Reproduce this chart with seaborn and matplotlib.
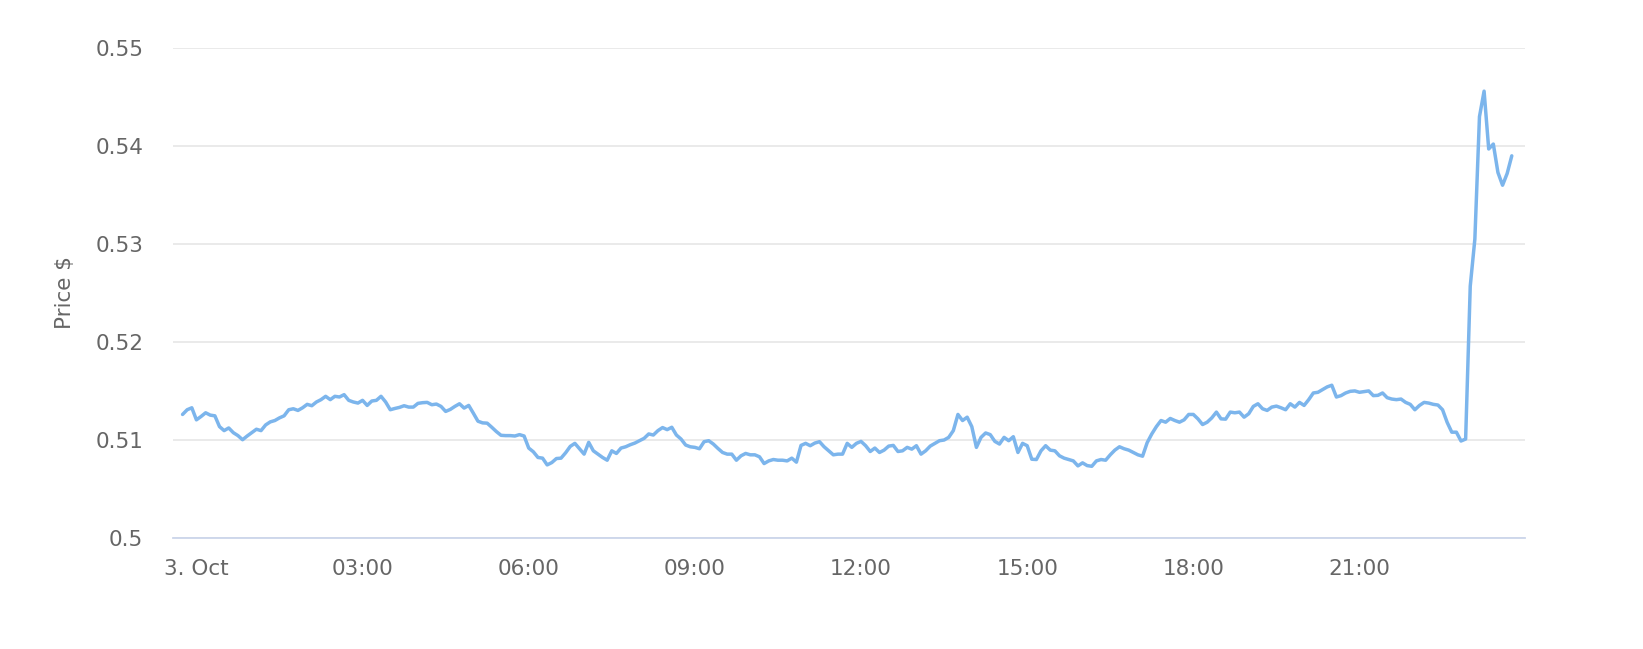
# Import libraries
import numpy as np
import matplotlib
matplotlib.use('Agg')
import matplotlib.pyplot as plt
import matplotlib.dates as mdates
from matplotlib.ticker import FuncFormatter
import seaborn as sns
import pandas as pd

# Price readings, one every 5 minutes, starting 2 Oct 23:45
start_time = '2023-10-02 23:45'
step = '5min'

# 23:45 - 07:45
price_night = [0.51261, 0.51309, 0.51329, 0.51206, 0.51240, 0.51278, 0.51254, 0.51247,
               0.51137, 0.51096, 0.51123, 0.51075, 0.51045, 0.51003, 0.51041, 0.51075,
               0.51110, 0.51096, 0.51154, 0.51185, 0.51199, 0.51226, 0.51247, 0.51309,
               0.51319, 0.51302, 0.51329, 0.51364, 0.51350, 0.51388, 0.51412, 0.51446,
               0.51412, 0.51446, 0.51439, 0.51463, 0.51405, 0.51388, 0.51377, 0.51405,
               0.51353, 0.51398, 0.51405, 0.51446, 0.51388, 0.51309, 0.51322, 0.51333,
               0.51350, 0.51336, 0.51336, 0.51374, 0.51381, 0.51384, 0.51360, 0.51367,
               0.51343, 0.51292, 0.51312, 0.51343, 0.51370, 0.51326, 0.51353, 0.51274,
               0.51192, 0.51175, 0.51172, 0.51130, 0.51086, 0.51048, 0.51045, 0.51045,
               0.51041, 0.51055, 0.51041, 0.50918, 0.50880, 0.50822, 0.50815, 0.50746,
               0.50770, 0.50811, 0.50815, 0.50870, 0.50935, 0.50966, 0.50911, 0.50856,
               0.50976, 0.50890, 0.50856, 0.50822, 0.50794, 0.50890, 0.50863, 0.50918,
               0.50931]

# 07:50 - 11:55
price_morning = [0.50952, 0.50969, 0.50993, 0.51017, 0.51062, 0.51051, 0.51096, 0.51127,
                 0.51106, 0.51130, 0.51051, 0.51010, 0.50949, 0.50931, 0.50925, 0.50911,
                 0.50983, 0.50993, 0.50959, 0.50914, 0.50873, 0.50856, 0.50856, 0.50794,
                 0.50839, 0.50863, 0.50849, 0.50849, 0.50829, 0.50760, 0.50787, 0.50801,
                 0.50794, 0.50794, 0.50787, 0.50815, 0.50774, 0.50945, 0.50966, 0.50942,
                 0.50969, 0.50983, 0.50931, 0.50890, 0.50849, 0.50856, 0.50856, 0.50966,
                 0.50925, 0.50966]

# 12:00 - 18:05
price_afternoon = [0.50986, 0.50942, 0.50883, 0.50918, 0.50873, 0.50897, 0.50938, 0.50945,
                   0.50883, 0.50890, 0.50925, 0.50907, 0.50942, 0.50856, 0.50890, 0.50938,
                   0.50966, 0.50993, 0.51000, 0.51027, 0.51096, 0.51261, 0.51199, 0.51233,
                   0.51137, 0.50925, 0.51027, 0.51072, 0.51055, 0.50986, 0.50959, 0.51027,
                   0.50993, 0.51034, 0.50873, 0.50966, 0.50942, 0.50804, 0.50801, 0.50890,
                   0.50942, 0.50897, 0.50890, 0.50839, 0.50815, 0.50801, 0.50787, 0.50736,
                   0.50767, 0.50739, 0.50732, 0.50787, 0.50801, 0.50794, 0.50849, 0.50897,
                   0.50931, 0.50911, 0.50897, 0.50873, 0.50849, 0.50835, 0.50973, 0.51062,
                   0.51137, 0.51199, 0.51182, 0.51220, 0.51199, 0.51182, 0.51206, 0.51261,
                   0.51261, 0.51216]

# 18:10 - 22:30
price_evening = [0.51158, 0.51182, 0.51226, 0.51285, 0.51216, 0.51213, 0.51285, 0.51278,
                 0.51285, 0.51233, 0.51268, 0.51343, 0.51370, 0.51319, 0.51302, 0.51336,
                 0.51346, 0.51329, 0.51309, 0.51370, 0.51336, 0.51384, 0.51353, 0.51412,
                 0.51480, 0.51487, 0.51515, 0.51542, 0.51559, 0.51439, 0.51453, 0.51480,
                 0.51497, 0.51501, 0.51487, 0.51494, 0.51501, 0.51453, 0.51456, 0.51480,
                 0.51432, 0.51418, 0.51412, 0.51418, 0.51384, 0.51364, 0.51309, 0.51353,
                 0.51384, 0.51377, 0.51364, 0.51357, 0.51309]

# 22:35 - 23:45
price_late = [0.5118, 0.5108, 0.5108, 0.5099, 0.5101, 0.5257, 0.5305, 0.5430,
              0.5456, 0.5397, 0.5402, 0.5373, 0.5360, 0.5372, 0.5390]

y_ticks = [0.50, 0.51, 0.52, 0.53, 0.54, 0.55]
y_title = 'Price $'

prices = price_night + price_morning + price_afternoon + price_evening + price_late
data = pd.DataFrame({
    'time': pd.date_range(start_time, periods=len(prices), freq=step),
    'price': prices,
})

# Style
sns.set_style('white')
plt.rcParams['font.family'] = ['DejaVu Sans']
text_color = '#666666'
line_color = '#7cb5ec'

fig, ax = plt.subplots(figsize=(16.43, 6.49), dpi=100)
fig.subplots_adjust(left=0.1055, right=0.928, top=0.926, bottom=0.171)

sns.lineplot(data=data, x='time', y='price', ax=ax, color=line_color, linewidth=2.5)

# Axes ranges
ax.set_xlim(pd.Timestamp('2023-10-02 23:35'), pd.Timestamp('2023-10-03 23:59'))
ax.set_ylim(y_ticks[0], y_ticks[-1])
ax.set_yticks(y_ticks)
ax.yaxis.set_major_formatter(FuncFormatter(lambda v, pos: f'{v:g}'))

# Time ticks every 3 hours, date label at midnight
def time_label(v, pos):
    d = mdates.num2date(v)
    if d.hour == 0 and d.minute == 0:
        return f'{d.day}. {d:%b}'
    return f'{d:%H:%M}'

ax.xaxis.set_major_locator(mdates.HourLocator(byhour=range(0, 24, 3)))
ax.xaxis.set_major_formatter(FuncFormatter(time_label))

# Grid and spines
ax.set_axisbelow(True)
ax.grid(axis='y', color='#e6e6e6', linewidth=1.2)
ax.grid(axis='x', visible=False)
for side in ['left', 'right', 'top']:
    ax.spines[side].set_visible(False)
ax.spines['bottom'].set_color('#ccd6eb')
ax.spines['bottom'].set_linewidth(1.3)

ax.tick_params(axis='y', length=0, pad=21.6, labelsize=15.5, labelcolor=text_color)
ax.tick_params(axis='x', length=13.7, width=1.2, color='#ccd6eb', pad=1.5,
               labelsize=15.5, labelcolor=text_color)

ax.set_xlabel('')
ax.set_ylabel(y_title, fontsize=15.5, color=text_color, va='center')
ax.yaxis.set_label_coords(-0.0804, 0.5)

fig.savefig('out.png', dpi=100)
